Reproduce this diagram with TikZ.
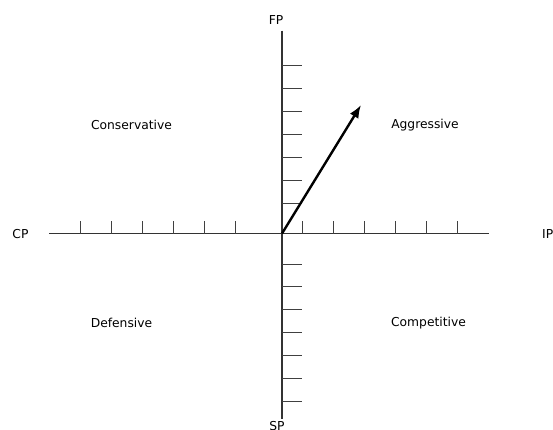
\documentclass[tikz,border=0pt]{standalone}
\usepackage{fontspec}
\setmainfont{DejaVu Sans}
\usetikzlibrary{arrows.meta}
\begin{document}
\begin{tikzpicture}[x=1bp,y=-1bp,
  axis/.style={draw=black!80,line width=1.1bp},
  tick/.style={draw=black!75,line width=1bp},
  lbl/.style={inner sep=0pt,font=\fontsize{12.3bp}{14bp}\selectfont,text=black},
  vec/.style={draw=black,line width=2.4bp,-{Latex[length=13bp,width=10bp]}}]
\useasboundingbox[fill=white] (0,0) rectangle (553,429);
\clip (0,0) rectangle (553,429);
% axes
\coordinate (O) at (282,233.5);
\coordinate (L) at (49,233.5);
\coordinate (R) at (489,233.5);
\coordinate (T) at (282,30.5);
\coordinate (B) at (282,418.5);
\draw[axis] (L) -- (R);
\draw[axis] (T) -- (B);
% ticks on horizontal axis
\foreach \i in {0,...,5}{
  \coordinate (hl\i) at ({80.3+31.1*\i},233.5);
  \draw[tick] (hl\i) -- ++(0,-13);
  \coordinate (hr\i) at ({302.3+31*\i},233.5);
  \draw[tick] (hr\i) -- ++(0,-13);
}
% ticks on vertical axis
\foreach \i in {0,...,6}{
  \coordinate (vt\i) at (282,{65.7+22.9*\i});
  \draw[tick] (vt\i) -- ++(19.5,0);
  \coordinate (vb\i) at (282,{264+22.9*\i});
  \draw[tick] (vb\i) -- ++(19.5,0);
}
% vector
\coordinate (V) at (361,105);
\draw[vec] (O) -- (V);
% axis labels
\node[lbl] (fp) at (276,20) {FP};
\node[lbl] (sp) at (277,426) {SP};
\node[lbl] (cp) at (20.5,234) {CP};
\node[lbl,anchor=west] (ip) at (542,234) {IP};
% quadrant labels
\node[lbl] (cons) at (131.5,125) {Conservative};
\node[lbl] (aggr) at (425,125) {Aggressive};
\node[lbl] (def) at (121.5,323) {Defensive};
\node[lbl] (comp) at (428.5,323) {Competitive};
\end{tikzpicture}
\end{document}
